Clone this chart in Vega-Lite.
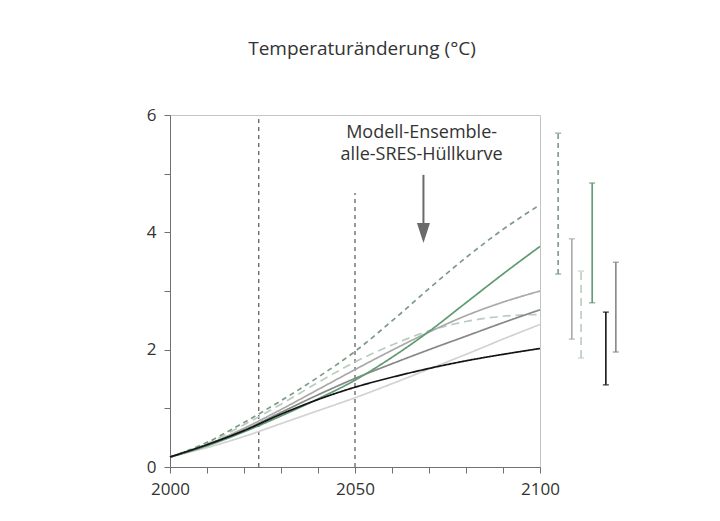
{
  "$schema": "https://vega.github.io/schema/vega-lite/v6.json",
  "width": 370,
  "height": 352,
  "autosize": {"type": "none"},
  "padding": {"left": 170, "top": 115, "right": 180, "bottom": 54},
  "background": "white",
  "config": {
    "font": "Open Sans",
    "view": {"stroke": "#c4c4c4", "strokeWidth": 1},
    "axis": {"grid": false, "domainColor": "#707070", "tickColor": "#707070", "labelColor": "#333333", "labelFont": "Open Sans", "labelFontSize": 17, "title": null, "labelOverlap": false, "tickSize": 6, "labelPadding": 8}
  },
  "title": {"text": "Temperaturänderung (°C)", "anchor": "middle", "offset": 47, "dx": 7, "fontSize": 19, "fontWeight": "normal", "color": "#333333", "font": "Open Sans"},
  "datasets": {
    "curves": [
      {"s": "IS92a", "year": 2000, "v": 0.17}, {"s": "IS92a", "year": 2010, "v": 0.33}, {"s": "IS92a", "year": 2020, "v": 0.52}, {"s": "IS92a", "year": 2030, "v": 0.74}, {"s": "IS92a", "year": 2040, "v": 0.96}, {"s": "IS92a", "year": 2050, "v": 1.18}, {"s": "IS92a", "year": 2060, "v": 1.42}, {"s": "IS92a", "year": 2070, "v": 1.67}, {"s": "IS92a", "year": 2080, "v": 1.92}, {"s": "IS92a", "year": 2090, "v": 2.18}, {"s": "IS92a", "year": 2100, "v": 2.43},
      {"s": "A1T", "year": 2000, "v": 0.17}, {"s": "A1T", "year": 2010, "v": 0.4}, {"s": "A1T", "year": 2020, "v": 0.72}, {"s": "A1T", "year": 2030, "v": 1.07}, {"s": "A1T", "year": 2040, "v": 1.44}, {"s": "A1T", "year": 2050, "v": 1.79}, {"s": "A1T", "year": 2060, "v": 2.08}, {"s": "A1T", "year": 2070, "v": 2.32}, {"s": "A1T", "year": 2080, "v": 2.48}, {"s": "A1T", "year": 2090, "v": 2.57}, {"s": "A1T", "year": 2100, "v": 2.6},
      {"s": "A1B", "year": 2000, "v": 0.17}, {"s": "A1B", "year": 2010, "v": 0.38}, {"s": "A1B", "year": 2020, "v": 0.66}, {"s": "A1B", "year": 2030, "v": 0.98}, {"s": "A1B", "year": 2040, "v": 1.32}, {"s": "A1B", "year": 2050, "v": 1.66}, {"s": "A1B", "year": 2060, "v": 1.99}, {"s": "A1B", "year": 2070, "v": 2.3}, {"s": "A1B", "year": 2080, "v": 2.58}, {"s": "A1B", "year": 2090, "v": 2.81}, {"s": "A1B", "year": 2100, "v": 3.0},
      {"s": "B2", "year": 2000, "v": 0.17}, {"s": "B2", "year": 2010, "v": 0.38}, {"s": "B2", "year": 2020, "v": 0.63}, {"s": "B2", "year": 2030, "v": 0.93}, {"s": "B2", "year": 2040, "v": 1.23}, {"s": "B2", "year": 2050, "v": 1.51}, {"s": "B2", "year": 2060, "v": 1.76}, {"s": "B2", "year": 2070, "v": 2.0}, {"s": "B2", "year": 2080, "v": 2.23}, {"s": "B2", "year": 2090, "v": 2.46}, {"s": "B2", "year": 2100, "v": 2.68},
      {"s": "A1FI", "year": 2000, "v": 0.17}, {"s": "A1FI", "year": 2010, "v": 0.42}, {"s": "A1FI", "year": 2020, "v": 0.76}, {"s": "A1FI", "year": 2030, "v": 1.13}, {"s": "A1FI", "year": 2040, "v": 1.53}, {"s": "A1FI", "year": 2050, "v": 1.97}, {"s": "A1FI", "year": 2060, "v": 2.49}, {"s": "A1FI", "year": 2070, "v": 3.04}, {"s": "A1FI", "year": 2080, "v": 3.57}, {"s": "A1FI", "year": 2090, "v": 4.05}, {"s": "A1FI", "year": 2100, "v": 4.47},
      {"s": "A2", "year": 2000, "v": 0.17}, {"s": "A2", "year": 2010, "v": 0.36}, {"s": "A2", "year": 2020, "v": 0.6}, {"s": "A2", "year": 2030, "v": 0.87}, {"s": "A2", "year": 2040, "v": 1.16}, {"s": "A2", "year": 2050, "v": 1.48}, {"s": "A2", "year": 2060, "v": 1.87}, {"s": "A2", "year": 2070, "v": 2.31}, {"s": "A2", "year": 2080, "v": 2.8}, {"s": "A2", "year": 2090, "v": 3.29}, {"s": "A2", "year": 2100, "v": 3.76},
      {"s": "B1", "year": 2000, "v": 0.17}, {"s": "B1", "year": 2010, "v": 0.38}, {"s": "B1", "year": 2020, "v": 0.62}, {"s": "B1", "year": 2030, "v": 0.9}, {"s": "B1", "year": 2040, "v": 1.15}, {"s": "B1", "year": 2050, "v": 1.36}, {"s": "B1", "year": 2060, "v": 1.53}, {"s": "B1", "year": 2070, "v": 1.68}, {"s": "B1", "year": 2080, "v": 1.81}, {"s": "B1", "year": 2090, "v": 1.92}, {"s": "B1", "year": 2100, "v": 2.02}
    ],
    "ranges": [
      {"s": "A1FI", "x": 2104.9, "lo": 3.29, "hi": 5.69},
      {"s": "A1B", "x": 2108.6, "lo": 2.18, "hi": 3.89},
      {"s": "A1T", "x": 2111.1, "lo": 1.86, "hi": 3.34},
      {"s": "A2", "x": 2114.1, "lo": 2.8, "hi": 4.84},
      {"s": "B1", "x": 2117.8, "lo": 1.4, "hi": 2.64},
      {"s": "B2", "x": 2120.5, "lo": 1.96, "hi": 3.49}
    ],
    "vlines": [
      {"year": 2024, "y0": 0, "y1": 6},
      {"year": 2050, "y0": 0, "y1": 4.67}
    ],
    "label": [
      {"t": "Modell-Ensemble-", "x": 2068, "y": 5.7},
      {"t": "alle-SRES-Hüllkurve", "x": 2068, "y": 5.32}
    ],
    "arrow": [
      {"x": 2068.5, "y": 4.98, "y2": 4.1, "tip": 3.99}
    ]
  },
  "encoding": {
    "x": {"type": "quantitative", "scale": {"domain": [2000, 2100], "nice": false, "zero": false},
          "axis": {"tickCount": 10, "labelExpr": "datum.value % 50 == 0 ? format(datum.value, 'd') : ''", "labelFlush": false}},
    "y": {"type": "quantitative", "scale": {"domain": [0, 6], "nice": false, "zero": true},
          "axis": {"tickCount": 6, "labelExpr": "datum.value % 2 == 0 ? format(datum.value, 'd') : ''"}}
  },
  "layer": [
    {
      "data": {"name": "vlines"},
      "mark": {"type": "rule", "strokeDash": [4, 4], "strokeWidth": 1, "color": "#333333"},
      "encoding": {
        "x": {"field": "year", "type": "quantitative"},
        "y": {"field": "y0", "type": "quantitative"},
        "y2": {"field": "y1"}
      }
    },
    {
      "data": {"name": "curves"},
      "mark": {"type": "line", "interpolate": "monotone", "strokeWidth": 1.7},
      "encoding": {
        "x": {"field": "year", "type": "quantitative"},
        "y": {"field": "v", "type": "quantitative"},
        "color": {"field": "s", "type": "nominal", "legend": null,
                  "scale": {"domain": ["IS92a", "A1T", "A1B", "B2", "A1FI", "A2", "B1"], "range": ["#d2d2d2", "#b9ccbf", "#a9a9a9", "#878787", "#7d9a88", "#5f9a72", "#141414"]}},
        "strokeDash": {"field": "s", "type": "nominal", "legend": null,
                  "scale": {"domain": ["IS92a", "A1T", "A1B", "B2", "A1FI", "A2", "B1"], "range": [[1, 0], [8, 5], [1, 0], [1, 0], [5, 4], [1, 0], [1, 0]]}},
        "order": {"field": "s"}
      }
    },
    {
      "data": {"name": "ranges"},
      "mark": {"type": "rule", "strokeWidth": 1.6},
      "encoding": {
        "x": {"field": "x", "type": "quantitative"},
        "y": {"field": "lo", "type": "quantitative"},
        "y2": {"field": "hi"},
        "color": {"field": "s", "type": "nominal", "legend": null},
        "strokeDash": {"field": "s", "type": "nominal", "legend": null}
      }
    },
    {
      "data": {"name": "ranges"},
      "mark": {"type": "tick", "orient": "horizontal", "size": 6, "thickness": 1.5},
      "encoding": {
        "x": {"field": "x", "type": "quantitative"},
        "y": {"field": "lo", "type": "quantitative"},
        "color": {"field": "s", "type": "nominal", "legend": null}
      }
    },
    {
      "data": {"name": "ranges"},
      "mark": {"type": "tick", "orient": "horizontal", "size": 6, "thickness": 1.5},
      "encoding": {
        "x": {"field": "x", "type": "quantitative"},
        "y": {"field": "hi", "type": "quantitative"},
        "color": {"field": "s", "type": "nominal", "legend": null}
      }
    },
    {
      "data": {"name": "label"},
      "mark": {"type": "text", "fontSize": 18, "color": "#333333", "font": "Open Sans", "align": "center", "baseline": "middle"},
      "encoding": {
        "x": {"field": "x", "type": "quantitative"},
        "y": {"field": "y", "type": "quantitative"},
        "text": {"field": "t"}
      }
    },
    {
      "data": {"name": "arrow"},
      "mark": {"type": "rule", "strokeWidth": 2, "color": "#6a6a6a"},
      "encoding": {
        "x": {"field": "x", "type": "quantitative"},
        "y": {"field": "y", "type": "quantitative"},
        "y2": {"field": "y2"}
      }
    },
    {
      "data": {"name": "arrow"},
      "mark": {"type": "point", "shape": "M-0.65,-1L0.65,-1L0,1Z", "filled": true, "size": 400, "color": "#6a6a6a", "opacity": 1},
      "encoding": {
        "x": {"field": "x", "type": "quantitative"},
        "y": {"field": "tip", "type": "quantitative"}
      }
    }
  ]
}
